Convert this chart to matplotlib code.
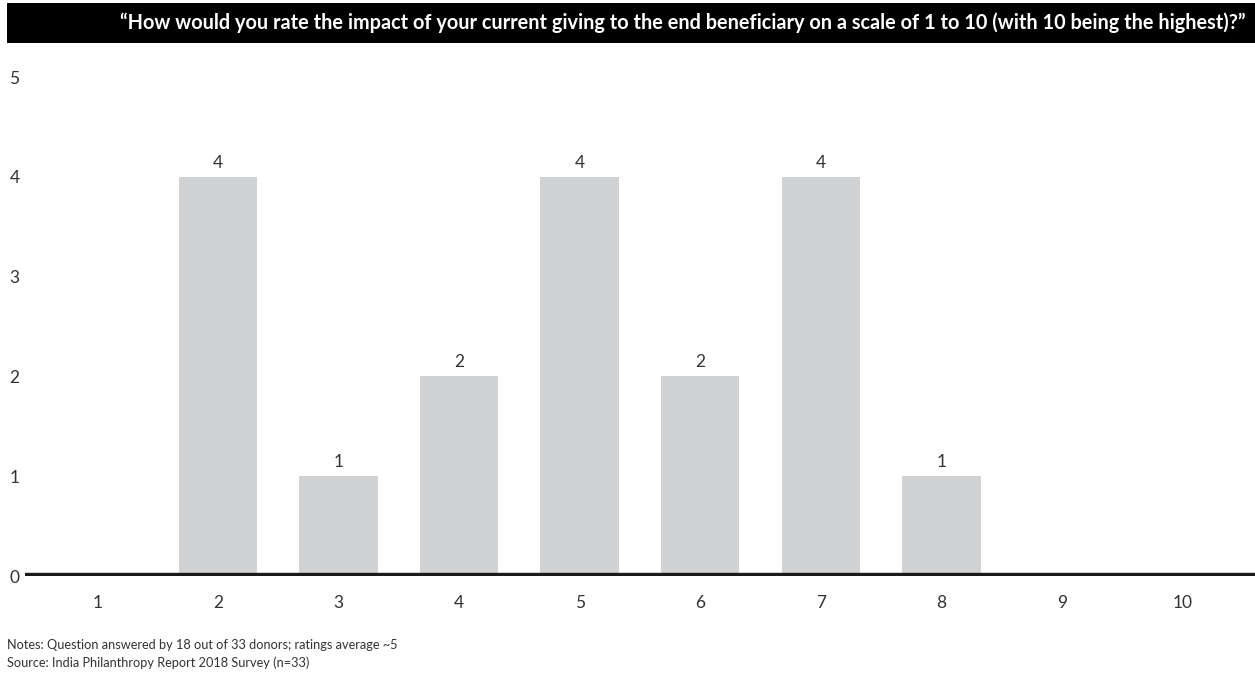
import matplotlib.pyplot as plt

# rating scale and how many donors gave each rating
ratings = [1, 2, 3, 4, 5, 6, 7, 8, 9, 10]
counts = [0, 4, 1, 2, 4, 2, 4, 1, 0, 0]
y_ticks = [0, 1, 2, 3, 4, 5]

title = "\u201cHow would you rate the impact of your current giving to the end beneficiary on a scale of 1 to 10 (with 10 being the highest)?\u201d"
notes = "Notes: Question answered by 18 out of 33 donors; ratings average ~5"
source = "Source: India Philanthropy Report 2018 Survey (n=33)"

plt.rcParams['font.family'] = ['Lato', 'DejaVu Sans']

fig = plt.figure(figsize=(12.55, 6.78), dpi=100)
ax = fig.add_axes([0.0199, 0.1504, 0.9801, 0.736])

ax.bar(ratings, counts, width=0.65, color='#d1d2d4', zorder=2)
for x, v in zip(ratings, counts):
    if v > 0:
        ax.text(x, v + 0.06, str(v), ha='center', va='bottom', fontsize=12.5, color='#333333')

ax.axhline(0, color='#1a1a1a', linewidth=4.6, zorder=3)
ax.set_xlim(0.4, 10.6)
ax.set_ylim(0, 5)
ax.set_xticks(ratings)
ax.set_yticks(y_ticks)
ax.tick_params(axis='x', length=0, pad=14, labelsize=12.5, labelcolor='#333333')
ax.tick_params(axis='y', length=0, pad=4, labelsize=12.5, labelcolor='#333333')
for s in ax.spines.values():
    s.set_visible(False)

# black title bar
bar_ax = fig.add_axes([7 / 1255, 1 - 43 / 678, 1 - 7 / 1255, 40 / 678])
bar_ax.set_facecolor('black')
bar_ax.set_xticks([])
bar_ax.set_yticks([])
for s in bar_ax.spines.values():
    s.set_visible(False)
bar_ax.text(0.992, 0.5, title, color='white', fontsize=14.35, fontweight='bold',
            ha='right', va='center', transform=bar_ax.transAxes)

fig.text(7 / 1255, 1 - 645 / 678, notes, fontsize=9.2, color='#333333', va='center')
fig.text(7 / 1255, 1 - 663 / 678, source, fontsize=9.2, color='#333333', va='center')

plt.savefig('out.png', dpi=100)
